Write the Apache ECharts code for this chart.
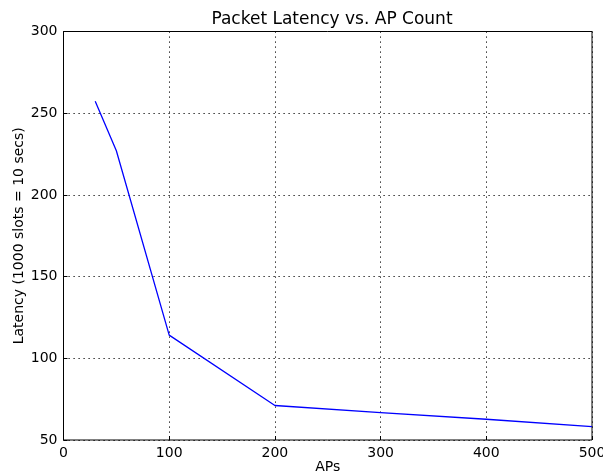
<!DOCTYPE html>
<html>
<head>
<meta charset="utf-8">
<script src="https://cdn.jsdelivr.net/npm/echarts@6/dist/echarts.min.js"></script>
<style>
  html, body { margin: 0; padding: 0; background: #fff; }
  #chart { width: 603px; height: 473px; }
</style>
</head>
<body>
<div id="chart"></div>
<script>
  // values
  var apCounts = [30, 50, 100, 200, 300, 400, 500];
  var latency = [257.3, 227, 114.2, 71.1, 66.8, 62.7, 58.2];

  var font = 'DejaVu Sans';
  var chart = echarts.init(document.getElementById('chart'));

  chart.setOption({
    animation: false,
    backgroundColor: '#fff',
    title: {
      text: 'Packet Latency vs. AP Count',
      left: 327,
      textAlign: 'center',
      top: 6,
      textStyle: { fontFamily: font, fontSize: 17, fontWeight: 'normal', color: '#000' }
    },
    grid: {
      left: 63.5,
      right: 11,
      top: 31.5,
      bottom: 33,
      outerBoundsMode: 'none',
      containLabel: false,
      show: true,
      borderColor: '#000',
      borderWidth: 1
    },
    xAxis: {
      type: 'value',
      min: 0,
      max: 500,
      interval: 100,
      name: 'APs',
      nameLocation: 'middle',
      nameGap: 20,
      nameMoveOverlap: false,
      nameTextStyle: { fontFamily: font, fontSize: 14, color: '#000' },
      axisLine: { show: false },
      axisTick: { show: true, inside: true, length: 4, lineStyle: { color: '#000' } },
      axisLabel: { fontFamily: font, fontSize: 14, color: '#000', margin: 6 },
      splitLine: { show: true, lineStyle: { color: '#000', type: [1.2, 3.8], width: 1 } }
    },
    yAxis: {
      type: 'value',
      min: 50,
      max: 300,
      interval: 50,
      name: 'Latency (1000 slots = 10 secs)',
      nameLocation: 'middle',
      nameGap: 37,
      nameMoveOverlap: false,
      nameTextStyle: { fontFamily: font, fontSize: 14, color: '#000' },
      axisLine: { show: false },
      axisTick: { show: true, inside: true, length: 4, lineStyle: { color: '#000' } },
      axisLabel: { fontFamily: font, fontSize: 14, color: '#000', margin: 6 },
      splitLine: { show: true, lineStyle: { color: '#000', type: [1.2, 3.8], width: 1 } }
    },
    series: [{
      type: 'line',
      data: apCounts.map(function (x, i) { return [x, latency[i]]; }),
      showSymbol: false,
      lineStyle: { color: '#0000ff', width: 1.3 },
      itemStyle: { color: '#0000ff' }
    }]
  });
</script>
</body>
</html>
